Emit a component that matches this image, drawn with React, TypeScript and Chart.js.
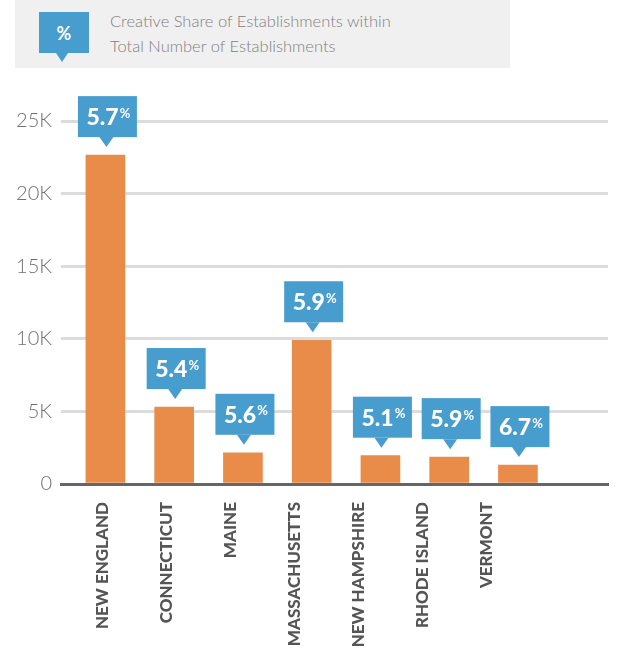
import React, { useEffect, useRef } from 'react';
import { Chart, registerables } from 'chart.js';

Chart.register(...registerables);

const categories = ['NEW ENGLAND', 'CONNECTICUT', 'MAINE', 'MASSACHUSETTS', 'NEW HAMPSHIRE', 'RHODE ISLAND', 'VERMONT'];
const establishments = [22650, 5300, 2150, 9900, 1950, 1850, 1300];
const creativeShare = [5.7, 5.4, 5.6, 5.9, 5.1, 5.9, 6.7];
const yTickValues = [0, 5000, 10000, 15000, 20000, 25000];
const yTickLabels = ['0', '5K', '10K', '15K', '20K', '25K'];
const legendLines = ['Creative Share of Establishments within', 'Total Number of Establishments'];

const BLUE = '#479dce';
const ORANGE = '#e98c4a';
const FONT = 'Lato, "Open Sans", sans-serif';

const calloutPlugin = {
  id: 'callouts',
  afterDatasetsDraw(chart: any) {
    const ctx = chart.ctx;
    const meta = chart.getDatasetMeta(0);
    meta.data.forEach((bar: any, i: number) => {
      const { x, y } = bar.getProps(['x', 'y'], true);
      const bw = 59;
      const bh = 41;
      const cx = x + 2;
      const bottom = y - 18;
      const top = bottom - bh;
      ctx.save();
      ctx.fillStyle = BLUE;
      ctx.fillRect(cx - bw / 2, top, bw, bh);
      ctx.beginPath();
      ctx.moveTo(x + 1 - 7, bottom);
      ctx.lineTo(x + 1 + 7, bottom);
      ctx.lineTo(x + 1, y - 8);
      ctx.closePath();
      ctx.fill();
      const num = creativeShare[i].toFixed(1);
      ctx.font = `900 23px ${FONT}`;
      const nw = ctx.measureText(num).width;
      ctx.font = `bold 13px ${FONT}`;
      const pw = ctx.measureText('%').width;
      const gap = 1;
      const total = nw + gap + pw;
      const sx = cx - total / 2 + 1;
      ctx.fillStyle = '#ffffff';
      ctx.textAlign = 'left';
      ctx.textBaseline = 'alphabetic';
      ctx.font = `900 23px ${FONT}`;
      ctx.fillText(num, sx, top + 29);
      ctx.font = `bold 13px ${FONT}`;
      ctx.fillText('%', sx + nw + gap, top + 21.5);
      ctx.restore();
    });
  },
};

export default function App() {
  const canvasRef = useRef<HTMLCanvasElement | null>(null);

  useEffect(() => {
    if (!canvasRef.current) return;
    const chart = new Chart(canvasRef.current, {
      type: 'bar',
      data: {
        datasets: [
          {
            data: establishments.map((v, i) => ({ x: i, y: v })),
            backgroundColor: ORANGE,
            barThickness: 39,
            xAxisID: 'x',
            yAxisID: 'y',
          } as any,
        ],
      },
      options: {
        animation: false,
        responsive: false,
        maintainAspectRatio: false,
        layout: { padding: { top: 121, right: 12, left: 0, bottom: 0 } },
        plugins: { legend: { display: false }, tooltip: { enabled: false } },
        scales: {
          x: {
            type: 'linear',
            display: false,
            offset: false,
            grid: { offset: false },
            min: -0.646,
            max: 7.31,
          },
          x2: {
            type: 'linear',
            position: 'bottom',
            offset: false,
            min: -0.643,
            max: 7.891,
            grid: { display: false, drawTicks: false, offset: false },
            border: { display: true, color: '#666666', width: 3 },
            afterBuildTicks: (s: any) => {
              s.ticks = categories.map((_, i) => ({ value: i }));
            },
            afterFit: (s: any) => {
              s.height = 177;
            },
            ticks: {
              autoSkip: false,
              minRotation: 90,
              maxRotation: 90,
              padding: 18,
              color: '#555555',
              font: { family: FONT, size: 17, weight: '900' },
              callback: (v: any) => categories[v] ?? '',
            },
          },
          y: {
            type: 'linear',
            min: 0,
            max: 25000,
            afterBuildTicks: (s: any) => {
              s.ticks = yTickValues.map((v) => ({ value: v }));
            },
            afterFit: (s: any) => {
              s.width = 61;
            },
            border: { display: false },
            grid: {
              drawTicks: false,
              lineWidth: 3,
              color: (c: any) => (c.tick && c.tick.value === 0 ? 'rgba(0,0,0,0)' : '#dcdcdc'),
            },
            ticks: {
              padding: 9,
              color: '#707070',
              font: { family: FONT, size: 20, weight: '300' },
              callback: (v: any) => {
                const idx = yTickValues.indexOf(Number(v));
                return idx >= 0 ? yTickLabels[idx] : '';
              },
            },
          } as any,
        } as any,
      },
      plugins: [calloutPlugin],
    });
    return () => chart.destroy();
  }, []);

  return (
    <div style={{ position: 'fixed', left: 0, top: 0, width: 620, height: 661, background: '#ffffff', overflow: 'hidden' }}>
      <canvas ref={canvasRef} width={620} height={661} style={{ position: 'absolute', left: 0, top: 0, width: 620, height: 661 }} />
      <div style={{ position: 'absolute', left: 15, top: 0, width: 495, height: 68, background: '#f0f0f0' }}>
        <div
          style={{
            position: 'absolute', left: 24, top: 12, width: 50, height: 41, background: BLUE, color: '#ffffff',
            fontFamily: FONT, fontWeight: 'bold', fontSize: 18, display: 'flex', alignItems: 'center', justifyContent: 'center',
          }}
        >
          %
        </div>
        <div
          style={{
            position: 'absolute', left: 41, top: 53, width: 0, height: 0,
            borderLeft: '6px solid transparent', borderRight: '6px solid transparent', borderTop: `9px solid ${BLUE}`,
          }}
        />
        <div
          style={{
            position: 'absolute', left: 95, top: 9, fontFamily: FONT, fontWeight: 300, fontSize: 16.5,
            lineHeight: '25px', color: '#808080', whiteSpace: 'nowrap',
          }}
        >
          {legendLines.map((l) => (
            <div key={l}>{l}</div>
          ))}
        </div>
      </div>
    </div>
  );
}
